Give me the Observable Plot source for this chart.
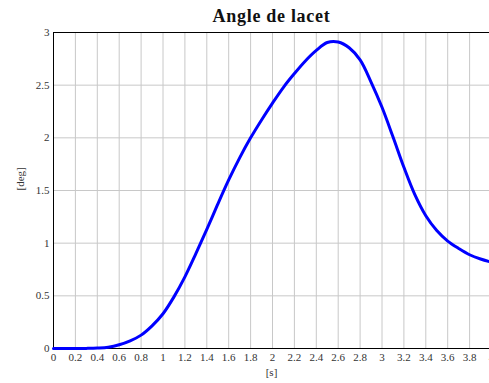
<!DOCTYPE html>
<html>
<head>
<meta charset="utf-8">
<script src="https://cdn.jsdelivr.net/npm/d3@7"></script>
<script src="https://cdn.jsdelivr.net/npm/@observablehq/plot@0.6"></script>
<style>
  html, body { margin: 0; padding: 0; background: #fff; }
  #chart { width: 489px; height: 383px; overflow: hidden; }
  #chart svg, #chart svg text { font-family: 'Liberation Serif', 'Times New Roman', serif !important; }
  .ttl text { letter-spacing: 0.7px; }
</style>
</head>
<body>
<div id="chart"></div>
<script>
const title = "Angle de lacet";
const xLabel = "[s]";
const yLabel = "[deg]";
const xTicks = [0, 0.2, 0.4, 0.6, 0.8, 1, 1.2, 1.4, 1.6, 1.8, 2, 2.2, 2.4, 2.6, 2.8, 3, 3.2, 3.4, 3.6, 3.8, 4];
const yTicks = [0, 0.5, 1, 1.5, 2, 2.5, 3];
const time = [0, 0.1, 0.2, 0.3, 0.4, 0.5, 0.6, 0.7, 0.8, 0.9, 1.0, 1.1, 1.2, 1.3, 1.4, 1.5, 1.6, 1.7, 1.8, 1.9, 2.0, 2.1, 2.2, 2.3, 2.4, 2.5, 2.6, 2.7, 2.8, 2.9, 3.0, 3.1, 3.2, 3.3, 3.4, 3.5, 3.6, 3.7, 3.8, 3.9, 4.0];
const angle = [0, 0, 0, 0.001, 0.004, 0.012, 0.035, 0.072, 0.127, 0.215, 0.33, 0.49, 0.68, 0.90, 1.13, 1.37, 1.60, 1.81, 2.00, 2.17, 2.33, 2.48, 2.61, 2.73, 2.83, 2.905, 2.91, 2.855, 2.74, 2.53, 2.29, 2.01, 1.72, 1.46, 1.26, 1.12, 1.02, 0.95, 0.89, 0.85, 0.82];
const data = time.map((t, i) => ({t, a: angle[i]}));

const fmt = d => String(+d.toFixed(2));

const chart = Plot.plot({
  width: 489,
  height: 383,
  marginLeft: 53,
  marginRight: 0,
  marginTop: 32,
  marginBottom: 35,
  style: {fontSize: "11px", color: "#333", background: "#fff"},
  x: {domain: [0, 4], range: [53, 491]},
  y: {domain: [0, 3]},
  marks: [
    Plot.gridX(xTicks, {stroke: "#c8c8c8", strokeOpacity: 1, strokeWidth: 1}),
    Plot.gridY(yTicks, {stroke: "#c8c8c8", strokeOpacity: 1, strokeWidth: 1}),
    Plot.axisX(xTicks, {tickSize: 0, tickPadding: 5, tickFormat: fmt, label: null, fill: "#333", fontSize: 11}),
    Plot.axisY(yTicks, {tickSize: 0, tickPadding: 4, tickFormat: fmt, label: null, fill: "#333", fontSize: 11}),
    Plot.ruleY([0, 3], {stroke: "#000", strokeWidth: 1}),
    Plot.ruleX([0, 4], {stroke: "#000", strokeWidth: 1}),
    Plot.line(data, {x: "t", y: "a", stroke: "#0000ff", strokeWidth: 3, curve: "catmull-rom"}),
    Plot.text([title], {frameAnchor: "top", lineAnchor: "bottom", dy: -11, fontSize: 18, fontWeight: "bold", fill: "#111", className: "ttl"}),
    Plot.text([yLabel], {frameAnchor: "left", dx: -33, rotate: -90, fontSize: 11, fill: "#333"}),
    Plot.text([xLabel], {frameAnchor: "bottom", dy: 27, fontSize: 11, fill: "#333"})
  ]
});
document.getElementById("chart").appendChild(chart);
</script>
</body>
</html>
